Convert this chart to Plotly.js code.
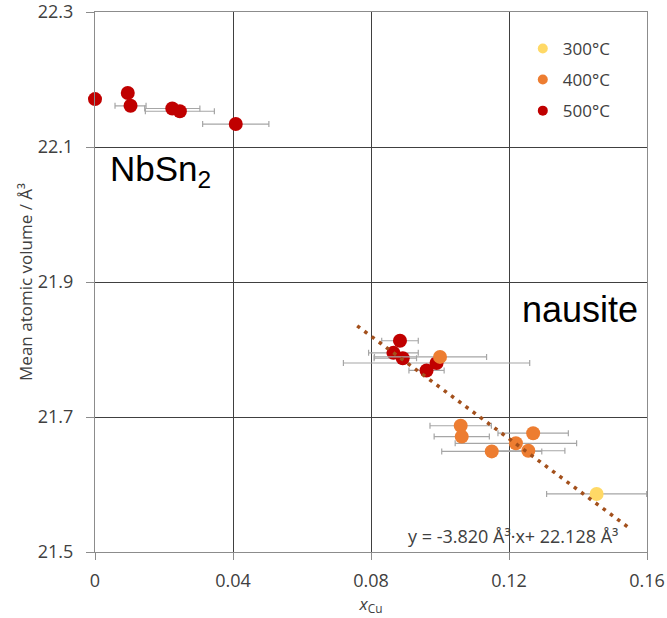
<!DOCTYPE html>
<html>
<head>
<meta charset="utf-8">
<script src="https://cdn.plot.ly/plotly-3.0.1.min.js"></script>
<style>html,body{margin:0;padding:0;background:#fff;}#chart{width:667px;height:618px;}</style>
</head>
<body>
<div id="chart"></div>
<script>
// ---- data ----
const series = ["300°C", "400°C", "500°C"];
const colors = ["#ffd966", "#ed7d31", "#c00000"];

const x300 = [0.1454];
const y300 = [21.586];
const ex300 = [0.0145];
const ex300m = [0.0145];

const x400 = [0.1000, 0.1060, 0.1063, 0.1270, 0.1220, 0.1150, 0.1256];
const y400 = [21.789, 21.687, 21.671, 21.676, 21.661, 21.649, 21.650];
const ex400 = [0.0135, 0.0089, 0.0080, 0.0102, 0.0176, 0.0145, 0.0106];
const ex400m = [0.0190, 0.0089, 0.0080, 0.0102, 0.0176, 0.0145, 0.0106];

const x500 = [0.0000, 0.0095, 0.0103, 0.0224, 0.0246, 0.0408, 0.0884, 0.0865, 0.0892, 0.0990, 0.0961];
const y500 = [22.171, 22.180, 22.161, 22.157, 22.153, 22.134, 21.813, 21.795, 21.787, 21.780, 21.769];
const ex500 = [0, 0, 0.0045, 0.0080, 0.0100, 0.0096, 0.0053, 0.0072, 0.0040, 0.0270, 0.0051];
const ex500m = [0, 0, 0.0045, 0.0080, 0.0100, 0.0096, 0.0053, 0.0072, 0.0083, 0.0270, 0.0051];

// linear fit line (end points as read)
const fitX = [0.076, 0.155];
const fitY = [21.835, 21.535];

const xTicks = [0, 0.04, 0.08, 0.12, 0.16];
const xTickText = ["0", "0.04", "0.08", "0.12", "0.16"];
const yTicks = [21.5, 21.7, 21.9, 22.1, 22.3];
const yTickText = ["21.5", "21.7", "21.9", "22.1", "22.3"];

// ---- styling ----
const FONT = "Open Sans, sans-serif";
const TXT = "#404040";
const errStyle = (plus, minus) => ({
  type: "data", symmetric: false, array: plus, arrayminus: minus,
  color: "#a6a6a6", thickness: 1.2, width: 3
});

const pts = [
  {x: x500, y: y500, ex: ex500, exm: ex500m, c: colors[2]},
  {x: x400, y: y400, ex: ex400, exm: ex400m, c: colors[1]},
  {x: x300, y: y300, ex: ex300, exm: ex300m, c: colors[0]}
];

const traces = [];
pts.forEach(p => {
  traces.push({
    type: "scatter", mode: "markers", x: p.x, y: p.y,
    error_x: errStyle(p.ex, p.exm),
    marker: {size: 14, color: p.c, line: {width: 0}},
    showlegend: false, hoverinfo: "x+y", cliponaxis: false
  });
});

traces.push({
  type: "scatter", mode: "lines", x: fitX, y: fitY,
  line: {color: "#a3501c", width: 3.5, dash: "3.5px,5.5px"},
  showlegend: false, hoverinfo: "skip"
});

// legend entries
series.forEach((s, i) => {
  traces.push({
    type: "scatter", mode: "markers", x: [null], y: [null], name: s,
    legendgroup: s,
    marker: {size: 10, color: colors[i]}
  });
});

const layout = {
  width: 667, height: 618,
  margin: {l: 95, r: 20, t: 12, b: 66},
  paper_bgcolor: "#ffffff", plot_bgcolor: "#ffffff",
  font: {family: FONT, size: 17, color: TXT},
  showlegend: true,
  legend: {
    x: 0.775, y: 0.965, xanchor: "left", yanchor: "top",
    font: {family: FONT, size: 17, color: TXT},
    bgcolor: "rgba(0,0,0,0)", traceorder: "grouped", tracegroupgap: 6
  },
  xaxis: {
    range: [0, 0.16], tickvals: xTicks, ticktext: xTickText,
    showgrid: true, gridcolor: "#404040", gridwidth: 1,
    zeroline: false, showline: true, mirror: true, linecolor: "#8c8c8c", linewidth: 1,
    ticks: "outside", ticklen: 7, tickcolor: "#8c8c8c",
    tickfont: {family: FONT, size: 18, color: TXT},
    ticklabelstandoff: 5, ticklabeloverflow: "allow",
    title: {text: "<i>x</i><sub>Cu</sub>", font: {family: FONT, size: 17, color: TXT}, standoff: 5}
  },
  yaxis: {
    range: [21.5, 22.3], tickvals: yTicks, ticktext: yTickText,
    showgrid: true, gridcolor: "#404040", gridwidth: 1,
    zeroline: false, showline: true, mirror: true, linecolor: "#8c8c8c", linewidth: 1,
    ticks: "outside", ticklen: 8, tickcolor: "#8c8c8c",
    tickfont: {family: FONT, size: 18, color: TXT},
    ticklabelstandoff: 9, ticklabeloverflow: "allow",
    title: {text: "Mean atomic volume / Å³", font: {family: FONT, size: 17, color: TXT}, standoff: 0}
  },
  annotations: [
    {xref: "paper", yref: "paper", x: 0.118, y: 0.706, xanchor: "center", yanchor: "middle",
     text: "NbSn<sub>2</sub>", showarrow: false,
     font: {family: "Liberation Sans, Arial, sans-serif", size: 35, color: "#000"}},
    {xref: "paper", yref: "paper", x: 0.879, y: 0.45, xanchor: "center", yanchor: "middle",
     text: "nausite", showarrow: false,
     font: {family: "Liberation Sans, Arial, sans-serif", size: 36, color: "#000"}},
    {xref: "paper", yref: "paper", x: 0.757, y: 0.03, xanchor: "center", yanchor: "middle",
     text: "y = -3.820 Å³·x+ 22.128 Å³", showarrow: false,
     font: {family: FONT, size: 18, color: TXT}}
  ]
};

Plotly.newPlot("chart", traces, layout, {displayModeBar: false, staticPlot: true});
</script>
</body>
</html>
